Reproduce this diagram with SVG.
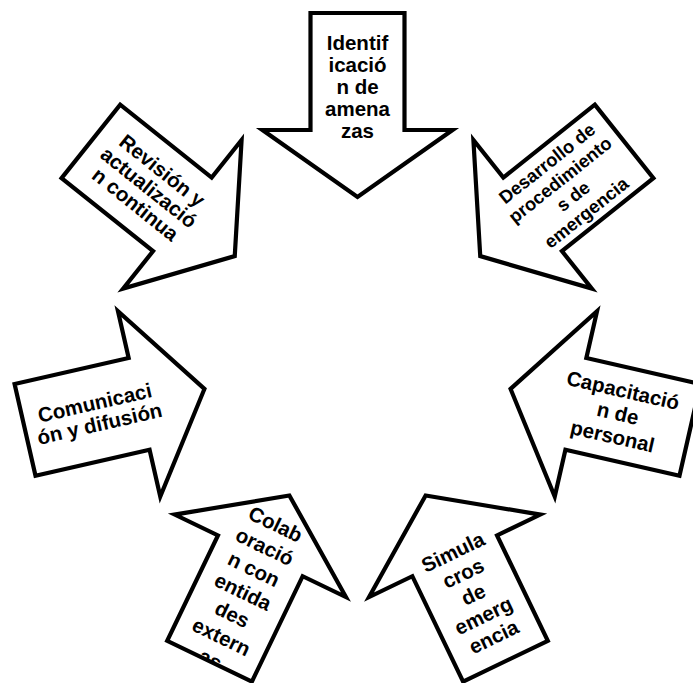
<svg xmlns="http://www.w3.org/2000/svg" xmlns:xlink="http://www.w3.org/1999/xlink" width="693" height="683" viewBox="0 0 693 683">
<style>
.arrow{fill:#ffffff;stroke:#000000;stroke-width:4.2;stroke-linejoin:miter}
.lbl{font-family:"Liberation Sans",Arial,sans-serif;font-weight:bold;font-size:20.5px;fill:#000000;text-anchor:middle}
.sm{font-size:18.3px}
</style>
<defs>
<polygon id="arrowShape" points="-47,-341 47,-341 47,-224 95,-224 0,-157 -95,-224 -47,-224"/>
<clipPath id="clipColab"><use href="#arrowShape" xlink:href="#arrowShape" transform="rotate(205.714)"/></clipPath>
</defs>
<rect width="693" height="683" fill="#ffffff"/>
<g id="connectors"/>
<g id="node-identificacion" transform="translate(357.5,354)">
<use href="#arrowShape" xlink:href="#arrowShape" class="arrow"/>
<g transform="translate(0,-267)">
<text class="lbl" x="0" y="-37">Identif</text>
<text class="lbl" x="0" y="-15">icació</text>
<text class="lbl" x="0" y="7">n de</text>
<text class="lbl" x="0" y="29">amena</text>
<text class="lbl" x="0" y="51">zas</text>
</g>
</g>
<g id="node-desarrollo" transform="translate(357.5,354)">
<use href="#arrowShape" xlink:href="#arrowShape" class="arrow" transform="rotate(51.4286)"/>
<g transform="rotate(51.4286) translate(0,-267) rotate(-90)">
<text class="lbl sm" x="0" y="-24.5">Desarrollo de</text>
<text class="lbl sm" x="0" y="-3.5">procedimiento</text>
<text class="lbl sm" x="0" y="17.5">s de</text>
<text class="lbl sm" x="0" y="38.5">emergencia</text>
</g>
</g>
<g id="node-capacitacion" transform="translate(357.5,354)">
<use href="#arrowShape" xlink:href="#arrowShape" class="arrow" transform="rotate(102.857)"/>
<g transform="rotate(102.857) translate(0,-267) rotate(-90)">
<text class="lbl" x="0" y="-16.5">Capacitació</text>
<text class="lbl" x="0" y="7">n de</text>
<text class="lbl" x="0" y="30.5">personal</text>
</g>
</g>
<g id="node-simulacros" transform="translate(357.5,354)">
<use href="#arrowShape" xlink:href="#arrowShape" class="arrow" transform="rotate(154.286)"/>
<g transform="rotate(154.286) translate(0,-267) rotate(-180)">
<text class="lbl" x="0" y="-40">Simula</text>
<text class="lbl" x="0" y="-16.5">cros</text>
<text class="lbl" x="0" y="7">de</text>
<text class="lbl" x="0" y="30.5">emerg</text>
<text class="lbl" x="0" y="54">encia</text>
</g>
</g>
<g id="node-colaboracion" transform="translate(357.5,354)">
<use href="#arrowShape" xlink:href="#arrowShape" class="arrow" transform="rotate(205.714)"/>
<g clip-path="url(#clipColab)">
<g transform="rotate(205.714) translate(0,-267) rotate(-180)">
<text class="lbl" x="0" y="-71">Colab</text>
<text class="lbl" x="0" y="-46">oració</text>
<text class="lbl" x="0" y="-21">n con</text>
<text class="lbl" x="0" y="4">entida</text>
<text class="lbl" x="0" y="29">des</text>
<text class="lbl" x="0" y="54">extern</text>
<text class="lbl" x="0" y="79">as</text>
</g>
</g>
</g>
<g id="node-comunicacion" transform="translate(357.5,354)">
<use href="#arrowShape" xlink:href="#arrowShape" class="arrow" transform="rotate(257.143)"/>
<g transform="rotate(257.143) translate(0,-267) rotate(-270)">
<text class="lbl" x="0" y="-3.75">Comunicaci</text>
<text class="lbl" x="0" y="17.75">ón y difusión</text>
</g>
</g>
<g id="node-revision" transform="translate(357.5,354)">
<use href="#arrowShape" xlink:href="#arrowShape" class="arrow" transform="rotate(308.571)"/>
<g transform="rotate(308.571) translate(0,-267) rotate(-270)">
<text class="lbl" x="0" y="-14.5">Revisión y</text>
<text class="lbl" x="0" y="7">actualizació</text>
<text class="lbl" x="0" y="28.5">n continua</text>
</g>
</g>
</svg>
